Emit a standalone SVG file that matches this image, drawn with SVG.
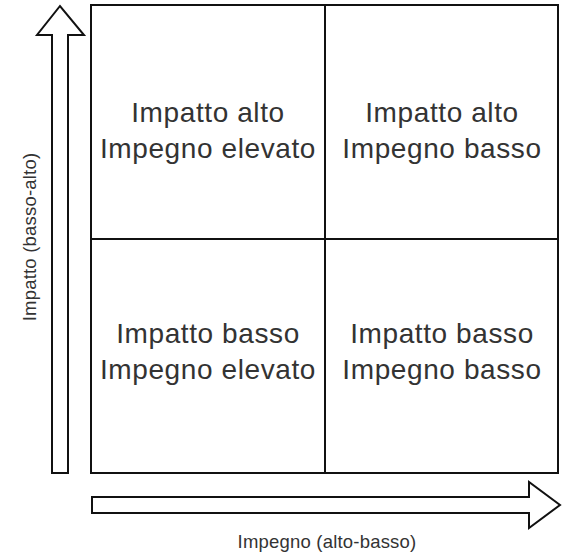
<svg xmlns="http://www.w3.org/2000/svg" width="568" height="558" viewBox="0 0 568 558">
<style>
.ln{fill:none;stroke:#111;stroke-width:2}
.ar{fill:#fff;stroke:#111;stroke-width:2;stroke-linejoin:miter}
.q{font-family:"Liberation Sans",Arial,sans-serif;font-size:28px;fill:#333;text-anchor:middle;letter-spacing:0.6px}
.ax{font-family:"Liberation Sans",Arial,sans-serif;font-size:18.5px;fill:#333;text-anchor:middle;letter-spacing:0.2px}
</style>
<rect width="568" height="558" fill="#fff"/>
<g id="connectors">
<polygon id="arrow-up" class="ar" points="52,473 68,473 68,35 84,35 60,6 37,35 52,35"/>
<polygon id="arrow-right" class="ar" points="92,497 529,497 529,482 560,505 529,528 529,513 92,513"/>
</g>
<g id="grid">
<rect class="ln" x="91" y="5" width="467" height="468"/>
<line class="ln" x1="325" y1="5" x2="325" y2="473"/>
<line class="ln" x1="91" y1="239" x2="558" y2="239"/>
</g>
<g id="q-top-left"><text class="q" x="208" y="122">Impatto alto</text><text class="q" x="208" y="158">Impegno elevato</text></g>
<g id="q-top-right"><text class="q" x="442" y="122">Impatto alto</text><text class="q" x="442" y="158">Impegno basso</text></g>
<g id="q-bottom-left"><text class="q" x="208" y="343">Impatto basso</text><text class="q" x="208" y="379">Impegno elevato</text></g>
<g id="q-bottom-right"><text class="q" x="442" y="343">Impatto basso</text><text class="q" x="442" y="379">Impegno basso</text></g>
<g id="label-y"><text class="ax" transform="translate(36,237) rotate(-90)" x="0" y="0">Impatto (basso-alto)</text></g>
<g id="label-x"><text class="ax" x="327" y="548">Impegno (alto-basso)</text></g>
</svg>
